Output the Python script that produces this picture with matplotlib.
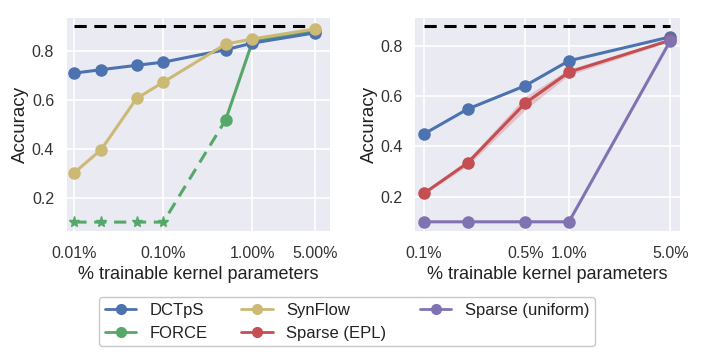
import matplotlib
matplotlib.use("Agg")
import matplotlib.pyplot as plt
import seaborn as sns
import numpy as np
from matplotlib.lines import Line2D

sns.set_theme(style="darkgrid")
plt.rcParams['font.family'] = ['Liberation Sans', 'DejaVu Sans']

# Left panel data
x_left = [0.01, 0.02, 0.05, 0.1, 0.5, 1.0, 5.0]
dctps_left = [0.711, 0.725, 0.743, 0.756, 0.807, 0.834, 0.876]
synflow_left = [0.303, 0.397, 0.607, 0.674, 0.830, 0.851, 0.892]
force_fail_x = [0.01, 0.02, 0.05, 0.1, 0.5]
force_fail = [0.1, 0.1, 0.1, 0.1, 0.519]
force_x = [0.5, 1.0, 5.0]
force_ok = [0.519, 0.840, 0.885]
dense_left = 0.903
xticks_left = [0.01, 0.1, 1.0, 5.0]
xticklabels_left = ["0.01%", "0.10%", "1.00%", "5.00%"]

# Right panel data
x_right = [0.1, 0.2, 0.5, 1.0, 5.0]
dctps_right = [0.449, 0.548, 0.641, 0.740, 0.835]
epl_right = [0.213, 0.334, 0.572, 0.695, 0.822]
epl_std = [0.004, 0.012, 0.026, 0.012, 0.005]
uniform_right = [0.1, 0.1, 0.1, 0.1, 0.82]
dense_right = 0.877
xticks_right = [0.1, 0.5, 1.0, 5.0]
xticklabels_right = ["0.1%", "0.5%", "1.0%", "5.0%"]
yticks = [0.2, 0.4, 0.6, 0.8]

c_blue = "#4C72B0"
c_green = "#55A868"
c_red = "#C44E52"
c_purple = "#8172B2"
c_yellow = "#CCB974"

lw = 2.2
ms = 8

fig = plt.figure(figsize=(7.17, 3.6), dpi=100)
ax1 = fig.add_axes([0.093, 0.358, 0.367, 0.592])
ax2 = fig.add_axes([0.579, 0.358, 0.369, 0.592])

for ax in (ax1, ax2):
    ax.set_facecolor("#EAEAF2")
    ax.grid(True, color="white", linewidth=1.2)
    ax.set_axisbelow(True)
    for s in ax.spines.values():
        s.set_visible(False)
    ax.set_xscale("log")
    ax.minorticks_off()
    ax.tick_params(axis="both", which="both", length=0, labelsize=11.5, colors="#333333")
    ax.tick_params(axis="x", pad=11)
    ax.tick_params(axis="y", pad=9)
    ax.set_yticks(yticks)
    ax.set_ylabel("Accuracy", fontsize=13.5, color="#222222", labelpad=2)
    ax.set_xlabel("% trainable kernel parameters", fontsize=13, color="#222222", labelpad=3)

# Left
ax1.plot([x_left[0], x_left[-1]], [dense_left, dense_left], "--", color="black", lw=lw, dashes=(4, 2.5))
ax1.plot(force_fail_x, force_fail, "--", color=c_green, lw=lw, marker="*", ms=ms, dashes=(4, 2.5))
ax1.plot(force_x, force_ok, "-", color=c_green, lw=lw, marker="o", ms=ms)
ax1.plot(x_left, dctps_left, "-", color=c_blue, lw=lw, marker="o", ms=ms)
ax1.plot(x_left, synflow_left, "-", color=c_yellow, lw=lw, marker="o", ms=ms)
ax1.set_xlim(0.0082, 7.4)
ax1.set_ylim(0.063, 0.937)
ax1.set_xticks(xticks_left)
ax1.set_xticklabels(xticklabels_left)

# Right
ax2.plot([x_right[0], x_right[-1]], [dense_right, dense_right], "--", color="black", lw=lw, dashes=(4, 2.5))
ax2.plot(x_right, dctps_right, "-", color=c_blue, lw=lw, marker="o", ms=ms)
epl = np.array(epl_right)
sd = np.array(epl_std)
ax2.fill_between(x_right, epl - sd, epl + sd, color=c_red, alpha=0.25, lw=0)
ax2.plot(x_right, epl_right, "-", color=c_red, lw=lw, marker="o", ms=ms)
ax2.plot(x_right, uniform_right, "-", color=c_purple, lw=lw, marker="o", ms=ms)
ax2.set_xlim(0.087, 5.8)
ax2.set_ylim(0.063, 0.91)
ax2.set_xticks(xticks_right)
ax2.set_xticklabels(xticklabels_right)

handles = [
    Line2D([], [], color=c_blue, lw=2, marker="o", ms=7, label="DCTpS"),
    Line2D([], [], color=c_green, lw=2, marker="o", ms=7, label="FORCE"),
    Line2D([], [], color=c_yellow, lw=2, marker="o", ms=7, label="SynFlow"),
    Line2D([], [], color=c_red, lw=2, marker="o", ms=7, label="Sparse (EPL)"),
    Line2D([], [], color=c_purple, lw=2, marker="o", ms=7, label="Sparse (uniform)"),
]
leg = fig.legend(handles=handles, ncol=3, loc="center", bbox_to_anchor=(0.484, 0.106),
                 fontsize=12, frameon=True, columnspacing=2.0, handlelength=1.9,
                 labelspacing=0.45, borderpad=0.35, borderaxespad=0)
leg.get_frame().set_edgecolor("#bbbbbb")
leg.get_frame().set_facecolor("white")
for t in leg.get_texts():
    t.set_color("#222222")

fig.savefig("out.png", dpi=100)
